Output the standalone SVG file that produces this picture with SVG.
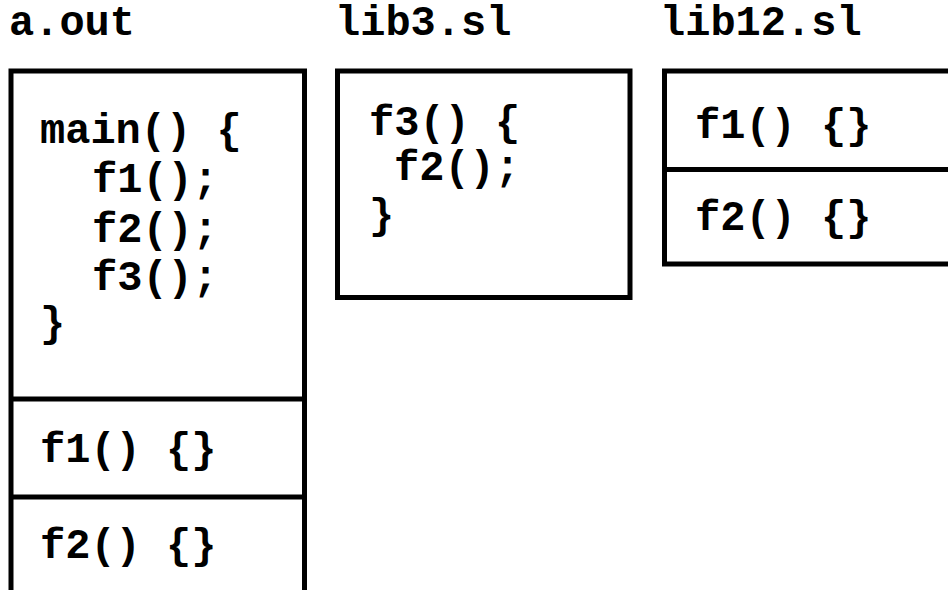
<svg xmlns="http://www.w3.org/2000/svg" width="948" height="590" viewBox="0 0 948 590">
  <style>
    .frame { fill: none; stroke: #000; stroke-width: 5; }
    .code { font-family: "Liberation Mono", "Courier New", monospace; font-weight: bold; font-size: 42px; fill: #000; }
  </style>
  <rect width="948" height="590" fill="#fff"/>

  <!-- executable image -->
  <g id="a-out">
    <text class="code" x="9" y="35">a.out</text>
    <path class="frame" d="M11,600 V71 H304.5 V600 M11,399 H304.5 M11,497 H304.5"/>
    <text class="code" x="40" y="143">main() {</text>
    <text class="code" x="92" y="192">f1();</text>
    <text class="code" x="92" y="242">f2();</text>
    <text class="code" x="92" y="290">f3();</text>
    <text class="code" x="40" y="336">}</text>
    <text class="code" x="40" y="462">f1() {}</text>
    <text class="code" x="40" y="558">f2() {}</text>
  </g>

  <!-- shared library with f3 -->
  <g id="lib3-sl">
    <text class="code" x="335" y="35">lib3.sl</text>
    <rect class="frame" x="337.5" y="71" width="292.5" height="226.5"/>
    <text class="code" x="369" y="135">f3() {</text>
    <text class="code" x="394" y="180">f2();</text>
    <text class="code" x="369" y="228">}</text>
  </g>

  <!-- shared library with f1 and f2 -->
  <g id="lib12-sl">
    <text class="code" x="660" y="35">lib12.sl</text>
    <path class="frame" d="M960,71 H664.5 V264 H960 M664.5,169.5 H960"/>
    <text class="code" x="695" y="138">f1() {}</text>
    <text class="code" x="695" y="230">f2() {}</text>
  </g>

  <g id="connectors"/>
</svg>
